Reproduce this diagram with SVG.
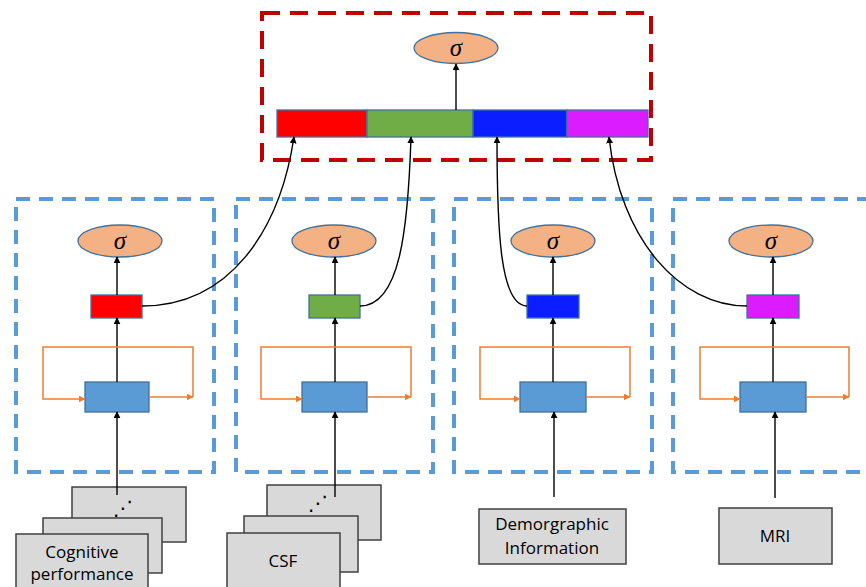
<svg xmlns="http://www.w3.org/2000/svg" width="866" height="587" viewBox="0 0 866 587">
<defs>
<style>
.bluebox{fill:none;stroke:#5B9BD5;stroke-width:4;stroke-dasharray:14 9}
.redbox{fill:none;stroke:#C00000;stroke-width:4;stroke-dasharray:18 10}
.sig{fill:#F4B183;stroke:#41719C;stroke-width:1.3}
.sigt{font-family:"Liberation Serif","DejaVu Serif",serif;font-style:italic;font-size:25px;text-anchor:middle;fill:#000}
.lstm{fill:#5B9BD5;stroke:#41719C;stroke-width:1.3}
.ln{fill:none;stroke:#000;stroke-width:1.4}
.or{fill:none;stroke:#ED7D31;stroke-width:1.5}
.inp{fill:#D9D9D9;stroke:#404040;stroke-width:1.5}
.it{font-family:"Open Sans","Liberation Sans",sans-serif;font-size:17px;text-anchor:middle;fill:#000}
.dots{font-family:"DejaVu Sans",sans-serif;font-size:20px;text-anchor:middle;fill:#000}
.seg{stroke:#41719C;stroke-width:1.3}
</style>
<marker id="ab" viewBox="0 0 10 10" refX="9" refY="5" markerWidth="7" markerHeight="7" markerUnits="userSpaceOnUse" orient="auto"><path d="M0,0 L10,5 L0,10 z" fill="#000"/></marker>
<marker id="ao" viewBox="0 0 10 10" refX="9" refY="5" markerWidth="7" markerHeight="7" markerUnits="userSpaceOnUse" orient="auto"><path d="M0,0 L10,5 L0,10 z" fill="#ED7D31"/></marker>
</defs>
<rect width="866" height="587" fill="#fff"/>

<g id="fusion">
<rect class="redbox" x="262" y="13" width="389" height="147"/>
<ellipse class="sig" cx="456" cy="48" rx="42" ry="15.5"/>
<text class="sigt" x="456" y="56">σ</text>
<rect class="seg" x="277" y="110" width="90" height="27" fill="#FF0000"/>
<rect class="seg" x="367" y="110" width="106" height="27" fill="#70AD47"/>
<rect class="seg" x="473" y="110" width="94" height="27" fill="#0A1EFF"/>
<rect class="seg" x="567" y="110" width="81" height="27" fill="#DA1CFF"/>
</g>

<g id="branch1">
<rect class="bluebox" x="16" y="199" width="198" height="273"/>
<ellipse class="sig" cx="120" cy="241" rx="42" ry="16"/>
<text class="sigt" x="120" y="249">σ</text>
<rect class="seg" x="91" y="295" width="51" height="23" fill="#FF0000"/>
<rect class="lstm" x="85" y="382" width="64" height="30"/>
</g>
<g id="branch2">
<rect class="bluebox" x="236" y="199" width="197" height="273"/>
<ellipse class="sig" cx="334" cy="241" rx="42" ry="16"/>
<text class="sigt" x="334" y="249">σ</text>
<rect class="seg" x="309" y="295" width="51" height="23" fill="#70AD47"/>
<rect class="lstm" x="302" y="382" width="65" height="30"/>
</g>
<g id="branch3">
<rect class="bluebox" x="454" y="199" width="198" height="273"/>
<ellipse class="sig" cx="553" cy="241" rx="42" ry="16"/>
<text class="sigt" x="553" y="249">σ</text>
<rect class="seg" x="527" y="295" width="52" height="23" fill="#0A1EFF"/>
<rect class="lstm" x="520" y="382" width="66" height="30"/>
</g>
<g id="branch4">
<rect class="bluebox" x="673" y="199" width="210" height="273"/>
<ellipse class="sig" cx="771" cy="241" rx="42" ry="16"/>
<text class="sigt" x="771" y="249">σ</text>
<rect class="seg" x="747" y="295" width="52" height="23" fill="#DA1CFF"/>
<rect class="lstm" x="740" y="382" width="66" height="30"/>
</g>

<g id="input-cognitive">
<rect class="inp" x="72" y="487" width="114" height="55"/>
<text class="dots" x="123" y="515">⋰</text>
<rect class="inp" x="43" y="518" width="119" height="55"/>
<rect class="inp" x="16" y="534" width="132" height="60"/>
<text class="it" x="82" y="558">Cognitive</text>
<text class="it" x="82" y="580">performance</text>
</g>
<g id="input-csf">
<rect class="inp" x="267" y="485" width="114" height="55"/>
<text class="dots" x="318" y="510">⋰</text>
<rect class="inp" x="244" y="516" width="114" height="56"/>
<rect class="inp" x="227" y="533" width="113" height="60"/>
<text class="it" x="283" y="567">CSF</text>
</g>
<g id="input-demographic">
<rect class="inp" x="479" y="509" width="147" height="55"/>
<text class="it" x="552" y="530">Demorgraphic</text>
<text class="it" x="552" y="554">Information</text>
</g>
<g id="input-mri">
<rect class="inp" x="719" y="508" width="113" height="56"/>
<text class="it" x="775" y="542">MRI</text>
</g>

<g id="connectors">
<line class="ln" x1="456" y1="110" x2="456" y2="64" marker-end="url(#ab)"/>
<!-- branch 1 -->
<line class="ln" x1="117" y1="495" x2="117" y2="412" marker-end="url(#ab)"/>
<line class="ln" x1="117" y1="382" x2="117" y2="318" marker-end="url(#ab)"/>
<line class="ln" x1="117" y1="295" x2="117" y2="257" marker-end="url(#ab)"/>
<path class="or" d="M149,397 H193" marker-end="url(#ao)"/>
<path class="or" d="M193,397 V347 H43 V399 H85" marker-end="url(#ao)"/>
<path class="ln" d="M142,306 C230,306 280,230 294,137" marker-end="url(#ab)"/>
<!-- branch 2 -->
<line class="ln" x1="335" y1="497" x2="335" y2="412" marker-end="url(#ab)"/>
<line class="ln" x1="335" y1="382" x2="335" y2="318" marker-end="url(#ab)"/>
<line class="ln" x1="335" y1="295" x2="335" y2="257" marker-end="url(#ab)"/>
<path class="or" d="M367,397 H411" marker-end="url(#ao)"/>
<path class="or" d="M411,397 V347 H261 V399 H302" marker-end="url(#ao)"/>
<path class="ln" d="M360,306 C400,306 408,230 411,137" marker-end="url(#ab)"/>
<!-- branch 3 -->
<line class="ln" x1="554" y1="497" x2="554" y2="412" marker-end="url(#ab)"/>
<line class="ln" x1="553" y1="382" x2="553" y2="318" marker-end="url(#ab)"/>
<line class="ln" x1="553" y1="295" x2="553" y2="257" marker-end="url(#ab)"/>
<path class="or" d="M586,397 H630" marker-end="url(#ao)"/>
<path class="or" d="M630,397 V347 H480 V399 H520" marker-end="url(#ao)"/>
<path class="ln" d="M527,306 C500,306 497,230 497,137" marker-end="url(#ab)"/>
<!-- branch 4 -->
<line class="ln" x1="775" y1="498" x2="775" y2="412" marker-end="url(#ab)"/>
<line class="ln" x1="773" y1="382" x2="773" y2="318" marker-end="url(#ab)"/>
<line class="ln" x1="773" y1="295" x2="773" y2="257" marker-end="url(#ab)"/>
<path class="or" d="M806,397 H849" marker-end="url(#ao)"/>
<path class="or" d="M849,397 V347 H700 V399 H740" marker-end="url(#ao)"/>
<path class="ln" d="M747,306 C680,306 620,240 609,137" marker-end="url(#ab)"/>
</g>
</svg>
